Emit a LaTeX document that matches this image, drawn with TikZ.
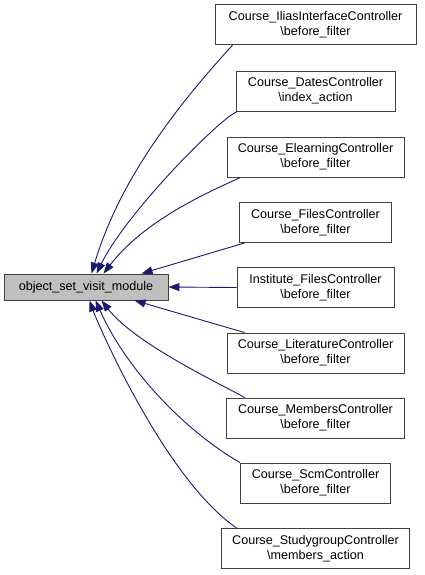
\documentclass[tikz,border=0pt]{standalone}
\usepackage{fontspec}
\setmainfont{Liberation Sans}
\usetikzlibrary{arrows.meta}
\definecolor{edgeblue}{RGB}{25,25,112}
\definecolor{boxline}{RGB}{64,64,64}
\definecolor{srcfill}{RGB}{191,191,191}
\tikzset{
  fn/.style={draw=boxline, line width=0.9pt, fill=white, align=center, inner sep=0pt,
    minimum height=40pt, font=\fontsize{12.6}{15}\selectfont},
  srcbox/.style={draw=boxline, line width=0.9pt, fill=srcfill, inner sep=0pt,
    minimum width=164pt, minimum height=26pt, font=\fontsize{12.6}{15}\selectfont},
  edge/.style={draw=edgeblue, line width=0.9pt, -{Triangle[length=11pt,width=8pt]}}
}
\begin{document}
\begin{tikzpicture}[x=1pt,y=-1pt]
\useasboundingbox (0,0) rectangle (424,575);
\node[srcbox] (src) at (86,287) {object\_set\_visit\_module};
\node[fn, minimum width=201pt] (ilias) at (315.5,24.75) {Course\_IliasInterfaceController\\\textbackslash before\_filter};
\node[fn, minimum width=159pt] (dates) at (315.5,91) {Course\_DatesController\\\textbackslash index\_action};
\node[fn, minimum width=177pt] (elearn) at (315.5,157) {Course\_ElearningController\\\textbackslash before\_filter};
\node[fn, minimum width=152pt] (files) at (315.5,222.5) {Course\_FilesController\\\textbackslash before\_filter};
\node[fn, minimum width=157pt] (inst) at (315.5,287.5) {Institute\_FilesController\\\textbackslash before\_filter};
\node[fn, minimum width=177pt] (lit) at (315.5,353) {Course\_LiteratureController\\\textbackslash before\_filter};
\node[fn, minimum width=178pt] (mem) at (315.5,418) {Course\_MembersController\\\textbackslash before\_filter};
\node[fn, minimum width=150pt] (scm) at (315.5,483) {Course\_ScmController\\\textbackslash before\_filter};
\node[fn, minimum width=188pt] (study) at (315.5,548.5) {Course\_StudygroupController\\\textbackslash members\_action};

\draw[edge] ([xshift=18pt]ilias.south west) .. controls (173,110) and (118.5,183) .. ([xshift=88pt]src.north west);
\draw[edge] ([xshift=2pt]dates.south west) .. controls (221,117) and (126,213) .. ([xshift=93pt]src.north west);
\draw[edge] ([xshift=14pt]elearn.south west) .. controls (211.7,190.7) and (145.3,219) .. ([xshift=100pt]src.north west);
\draw[edge] ([xshift=5.5pt]files.south west) -- ([xshift=138pt]src.north west);
\draw[edge] (inst.west) -- (src.east);
\draw[edge] ([xshift=18pt]lit.north west) -- ([xshift=131pt]src.south west);
\draw[edge] ([xshift=18.5pt]mem.north west) .. controls (228.7,387.8) and (135.6,344.8) .. ([xshift=98pt]src.south west);
\draw[edge] (scm.north west) .. controls (183.9,430.3) and (125.8,368.5) .. ([xshift=92pt]src.south west);
\draw[edge] ([xshift=15.5pt]study.north west) .. controls (163,477) and (96,319) .. ([xshift=86pt]src.south west);
\end{tikzpicture}
\end{document}
